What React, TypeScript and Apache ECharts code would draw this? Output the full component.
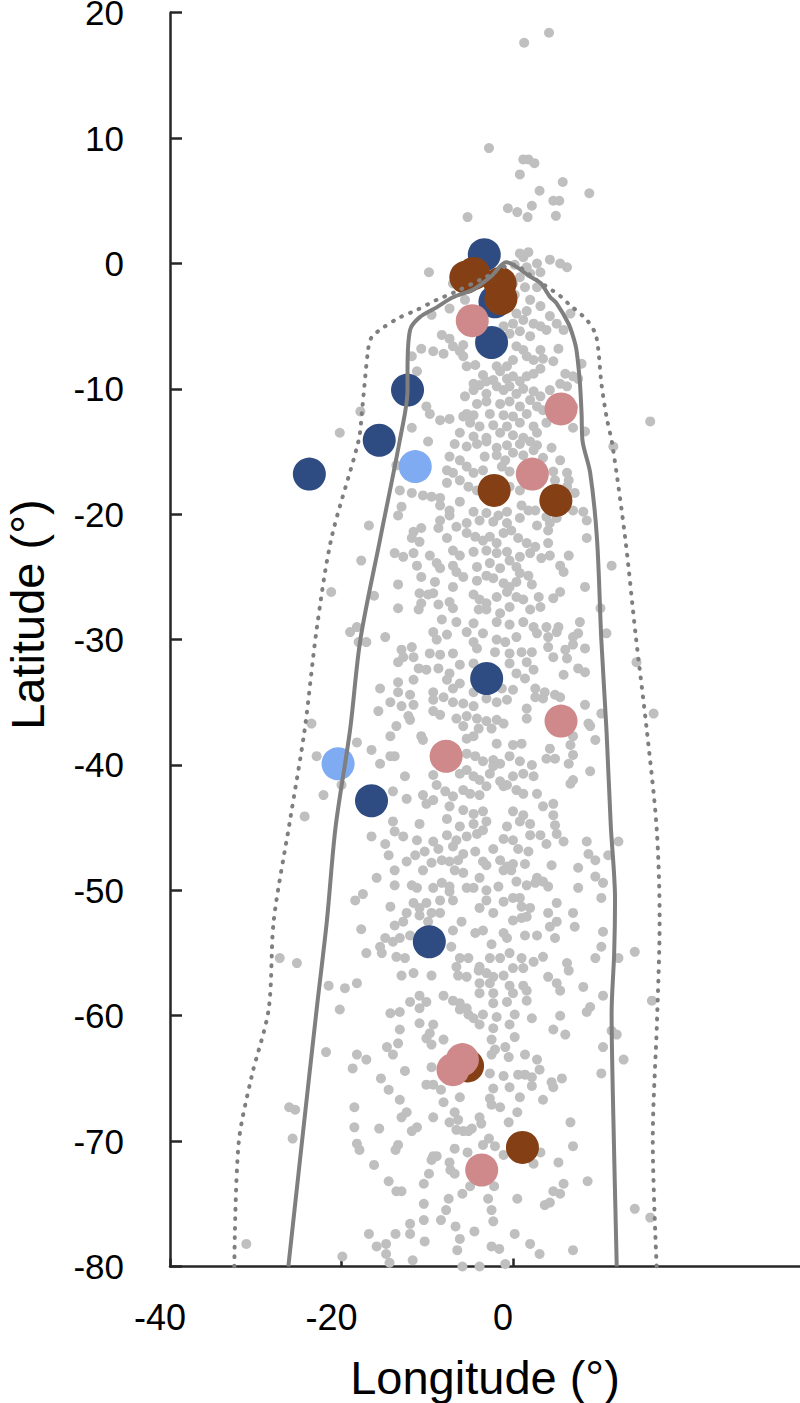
import React, { useEffect, useRef } from "react";
import * as echarts from "echarts";

const FONT = "'Liberation Sans', Arial, sans-serif";

const xTickValues = [-40, -20, 0, 20];
const yTickValues = [-80, -70, -60, -50, -40, -30, -20, -10, 0, 10, 20];

// Solid and dotted envelope curves [longitude, latitude]
const boundarySolid = [
  [-26.2, -80], [-24.6, -70], [-22.9, -59.5], [-21.7, -52.4], [-20.7, -45], [-19.0, -37.2], [-17.8, -30],
  [-15.5, -22], [-13.2, -14.1], [-12.3, -10.1], [-12.3, -8.5], [-12.0, -5.3], [-10.9, -4.3], [-8.9, -3.5],
  [-7.0, -2.7], [-4.7, -2.1], [-2.5, -1.0], [-0.8, 0.1], [2.0, -1.05], [3.24, -1.58], [4.3, -2.65], [5.1, -3.2],
  [6.45, -4.77], [7.0, -5.8], [7.4, -6.9], [7.8, -9.5], [8.0, -12], [8.1, -14.1], [9.0, -16.7], [9.8, -22.0],
  [10.3, -30.0], [10.9, -37.2], [11.4, -44.8], [11.9, -50.7], [11.8, -55], [11.5, -59.8], [11.7, -68], [12.1, -80],
];

const boundaryDotted = [
  [-32.5, -80], [-32.0, -70.2], [-30.5, -64.9], [-28.5, -59.5], [-27.9, -52.4], [-26.0, -44.4], [-24.3, -37.2],
  [-22.9, -29.2], [-21.2, -22], [-18.0, -14.1], [-17.6, -11.7], [-16.9, -6.9], [-16.5, -5.9], [-15.1, -5.1],
  [-13.2, -4.3], [-11.2, -3.7], [-8.9, -2.9], [-7.0, -2.35], [-3.5, -1.2], [0.0, -0.1], [2.5, -1.2], [4.7, -2.2],
  [5.6, -2.65], [6.45, -3.2], [8.6, -4.5], [9.6, -5.6], [9.95, -6.9], [10.3, -9.5], [10.9, -12.2], [11.6, -14.5],
  [13.1, -22], [14.3, -29.6], [15.6, -37.2], [16.75, -45], [17.1, -52.4], [16.8, -60.3], [16.3, -69.9], [16.75, -80],
];

// Grey background points, by latitude band
const greyBand1 = [
  [1.3, 17.6], [4.2, 18.4], [-2.8, 9.2], [1.2, 8.3], [1.8, 8.3], [2.5, 8.0], [0.8, 7.1], [5.8, 6.5], [3.1, 5.8], [8.9, 5.6],
  [4.7, 5.0], [5.4, 5.0], [-0.6, 4.4], [0.5, 4.1], [2.2, 4.6], [1.7, 3.7], [5.0, 3.8], [-5.3, 3.7],
  [0.8, 0.8], [1.8, 0.9], [1.2, 0.5], [0.2, -0.1], [1.6, -0.3], [2.8, 0.0], [2.0, -0.8], [3.2, -0.7], [0.8, -1.1], [4.3, 0.3],
  [5.5, 0.0], [6.3, -0.3], [0.0, -1.6], [1.4, -1.9], [2.8, -1.9], [0.2, -2.5], [2.0, -2.9], [-0.4, -3.4], [0.4, -4.0],
  [1.6, -3.8], [3.2, -3.4], [4.3, -4.2], [0.0, -4.8], [1.2, -4.5], [2.4, -4.8], [-1.1, -5.0], [-0.4, -5.6], [0.8, -5.4],
  [2.0, -5.8], [3.2, -5.0], [3.9, -5.3], [5.1, -4.8], [5.9, -5.3], [6.7, -4.0],
  [-9.8, -0.7], [-7.0, -1.6], [-5.6, -2.9], [-7.4, -3.6], [-9.5, -4.1], [-8.3, -5.7], [-7.4, -6.0], [-7.0, -6.6],
  [-5.8, -6.5], [-6.2, -7.0], [-10.7, -6.8], [-9.3, -7.0], [-8.1, -7.2], [0.4, -6.6], [1.2, -6.9], [3.2, -6.9],
  [5.3, -6.8], [-11.8, -7.4], [-5.8, -7.4], [-5.4, -8.2], [-4.4, -8.1], [-1.9, -8.2], [-1.5, -8.6], [-0.7, -8.2],
  [0.0, -7.7], [1.6, -7.4], [2.4, -7.7], [3.5, -7.6], [4.7, -7.8], [-11.2, -8.6], [-3.5, -8.9], [-3.1, -9.4],
  [-2.3, -9.3], [-0.7, -9.2], [0.0, -9.0], [0.8, -9.4], [1.6, -9.0], [2.4, -8.8], [3.2, -8.4], [6.1, -8.8], [7.0, -9.0],
  [8.0, -8.0], [7.6, -9.2], [-4.6, -9.6], [-3.9, -9.7], [-4.6, -10.1], [-3.1, -10.4], [-1.9, -9.8], [-1.1, -10.1],
  [-0.4, -9.8], [0.4, -10.4], [1.2, -10.0], [2.4, -10.2], [3.2, -10.6], [4.3, -10.1], [5.5, -9.6], [6.3, -9.8],
  [-5.6, -10.6], [-4.2, -11.2], [-3.1, -11.0], [-1.5, -11.2], [-0.4, -11.0], [0.8, -11.4], [2.0, -10.9], [2.8, -11.4],
  [-10.1, -11.4], [-9.7, -12.0], [-5.4, -12.0], [-4.6, -12.1], [-2.7, -12.0], [-1.1, -12.1], [0.0, -12.2], [1.6, -12.0],
  [3.5, -11.7], [-17.8, -11.8], [7.0, -11.4], [-8.5, -12.5], [-7.4, -12.4], [-5.8, -12.2], [-5.0, -12.7], [-3.9, -13.0],
  [-2.3, -12.9], [-0.7, -13.0], [0.8, -12.7], [2.4, -13.0], [3.9, -12.7], [16.0, -12.6], [-20.2, -13.5], [-11.8, -13.1],
  [-6.2, -13.5], [-4.6, -13.8], [-3.1, -13.9], [-1.5, -13.5], [0.0, -13.7], [1.2, -13.9], [2.8, -13.5], [7.0, -13.1], [8.4, -13.4],
];

const greyBand2 = [
  [-9.9, -14.2], [-6.8, -14.4], [-5.4, -14.6], [-4.2, -14.4], [-3.1, -14.2], [-1.9, -14.7], [-0.7, -14.5], [0.8, -14.4],
  [2.0, -14.2], [2.8, -14.5], [4.5, -14.7], [11.7, -14.6], [-3.3, -15.4], [-1.9, -15.3], [-0.9, -15.7], [0.0, -15.1],
  [1.2, -15.3], [2.4, -14.9], [-7.4, -15.4], [-6.2, -15.7], [3.5, -15.5], [5.5, -15.7], [6.3, -16.7], [6.5, -17.3],
  [-13.6, -16.1], [-7.7, -16.5], [-7.0, -16.7], [-5.4, -16.2], [-4.6, -16.7], [-3.5, -16.5], [-1.3, -16.2], [-0.4, -16.6],
  [4.7, -16.6], [4.9, -17.3], [-7.7, -17.5], [-6.2, -17.3], [-5.2, -17.8], [-4.2, -18.1], [-0.4, -17.8], [0.8, -18.1],
  [6.3, -17.8], [7.2, -18.3], [-13.2, -18.1], [-11.8, -18.3], [-10.5, -18.5], [-9.5, -18.6], [-8.5, -18.7], [-8.5, -19.3],
  [-7.4, -19.7], [-6.2, -19.0], [-4.6, -19.8], [-3.1, -19.9], [-1.7, -20.1], [-0.7, -19.8], [1.0, -19.3], [1.8, -19.7],
  [2.6, -19.7], [3.9, -20.2], [5.1, -20.3], [7.0, -19.7], [8.2, -19.8], [8.6, -20.5], [-13.0, -19.4], [-13.4, -20.1],
  [-8.5, -20.5], [-7.4, -20.1], [-5.4, -20.7], [-3.9, -20.5], [-2.3, -20.6], [-0.7, -20.7], [0.8, -20.3], [2.8, -20.9],
  [4.3, -20.7], [-16.8, -20.9], [-11.6, -21.4], [-10.7, -21.1], [-11.8, -21.9], [-10.9, -22.2], [-8.7, -21.1], [-7.7, -21.9],
  [-6.6, -21.0], [-5.4, -21.5], [-4.4, -21.8], [-3.5, -22.1], [-2.7, -21.8], [-1.9, -22.3], [-1.1, -21.5], [-0.2, -21.3],
  [0.6, -21.9], [1.6, -22.3], [2.6, -22.6], [4.1, -21.3], [4.1, -22.3], [8.6, -21.9], [-13.8, -23.1], [-12.8, -23.4],
  [-11.6, -23.1], [-9.7, -23.3], [-7.0, -22.9], [-6.2, -23.3], [-4.6, -23.0], [-3.1, -22.9], [-1.9, -23.1], [-0.7, -23.0],
  [0.8, -23.4], [2.0, -23.1], [4.3, -23.3], [6.5, -23.3], [-17.7, -23.7], [-11.2, -24.1], [-8.9, -23.9], [-8.5, -24.3],
  [-7.0, -24.1], [-6.6, -24.6], [-5.8, -25.0], [-4.2, -24.2], [-2.7, -23.9], [-1.5, -24.3], [-0.4, -23.7], [0.4, -24.2],
  [0.8, -24.7], [1.8, -24.9], [3.3, -23.5], [5.5, -24.1], [5.9, -24.6], [11.5, -24.1], [-13.4, -25.6], [-10.7, -25.0],
  [-9.1, -25.4], [-7.0, -25.8], [-4.2, -25.3], [-3.1, -24.9], [-2.3, -25.1], [-1.1, -25.5], [-0.4, -25.8], [0.4, -25.4],
  [2.2, -25.6], [8.4, -25.8], [-21.2, -26.2], [-16.2, -26.5], [-10.9, -26.3], [-9.9, -26.4], [-9.3, -26.3], [-7.4, -27.0],
  [-7.0, -27.5], [-4.6, -26.4], [-3.9, -26.8], [-3.1, -27.1], [-1.9, -26.6], [-0.7, -26.2], [0.4, -26.6], [1.2, -26.8],
  [3.0, -26.6], [4.7, -26.7], [5.5, -26.2], [-13.4, -27.5], [-11.0, -27.6], [-10.7, -27.1], [-8.7, -27.2], [-4.0, -27.6],
  [-3.1, -27.6], [-1.5, -27.9], [-0.4, -27.4], [2.0, -27.6], [3.2, -27.4], [10.2, -27.5], [-8.3, -28.4], [-6.6, -28.6],
  [-4.6, -28.7], [-1.9, -28.6], [-0.4, -28.8], [1.2, -28.6], [2.4, -29.0], [3.9, -29.0], [5.3, -29.0], [7.8, -28.6], [-18.2, -29.0],
];

const greyBand3 = [
  [-19.0, -29.4], [-18.0, -30.2], [-17.1, -30.2], [-14.9, -29.8], [-9.3, -29.4], [-8.9, -30.0], [-7.7, -29.6], [-5.4, -29.4],
  [-4.6, -30.2], [-3.5, -29.5], [-1.9, -30.0], [-0.9, -30.2], [0.4, -29.8], [2.8, -29.5], [4.1, -29.8], [5.1, -29.4],
  [7.0, -29.8], [7.6, -29.5], [10.9, -29.5], [-13.0, -30.8], [-11.8, -30.6], [-12.8, -31.4], [-11.6, -31.4], [-13.4, -31.8],
  [-9.7, -31.1], [-8.5, -31.2], [-7.0, -31.1], [-4.2, -30.7], [-2.1, -31.0], [-0.4, -31.1], [1.0, -31.0], [2.2, -31.0],
  [4.1, -30.6], [4.7, -31.4], [6.1, -30.8], [7.0, -30.4], [8.4, -30.7], [6.3, -31.5], [14.4, -31.8], [-11.0, -32.3],
  [-10.1, -32.4], [-8.7, -32.3], [-7.4, -32.7], [-6.2, -32.0], [-4.6, -31.9], [-0.4, -31.9], [1.6, -31.8], [2.4, -32.4],
  [0.4, -32.7], [1.4, -33.1], [5.9, -32.8], [7.6, -32.3], [8.4, -32.6], [-15.5, -33.9], [-13.4, -33.4], [-11.6, -33.2],
  [-9.3, -34.2], [-7.7, -33.2], [-7.0, -33.9], [-6.2, -33.5], [-4.6, -34.2], [-1.3, -33.9], [0.0, -34.0], [2.6, -33.9],
  [3.7, -34.2], [4.9, -34.4], [-14.3, -35.0], [-15.7, -35.7], [-13.4, -34.2], [-12.0, -34.4], [-13.0, -35.3], [-11.6, -35.2],
  [-9.3, -34.8], [-8.1, -34.6], [-7.0, -35.0], [-5.8, -35.1], [-4.6, -35.3], [-3.1, -34.7], [-1.9, -35.0], [-0.7, -34.8],
  [1.6, -35.5], [2.6, -34.6], [3.5, -34.7], [5.5, -34.6], [8.4, -35.2], [10.3, -35.9], [16.4, -35.9], [-12.2, -36.1],
  [-12.0, -36.4], [-9.3, -35.7], [-8.5, -36.0], [-6.6, -36.3], [-5.4, -36.1], [-4.2, -36.3], [-3.1, -36.5], [-1.9, -36.4],
  [-1.1, -36.7], [1.6, -36.3], [-5.8, -36.9], [-4.0, -37.1], [-2.5, -37.1], [-23.5, -36.7], [-13.6, -36.9], [8.8, -36.7],
  [7.0, -37.7], [-14.3, -37.7], [-18.2, -38.2], [-16.5, -38.8], [-10.7, -37.7], [-10.5, -38.0], [-5.4, -37.9], [-4.6, -37.7],
  [-1.9, -38.3], [0.0, -38.4], [1.0, -38.3], [4.3, -38.7], [6.7, -38.4], [9.6, -38.0], [-22.9, -39.3], [-15.5, -39.9],
  [-14.3, -39.3], [-13.8, -39.3], [-5.4, -39.1], [-4.4, -39.3], [-3.5, -39.7], [-2.3, -39.6], [-1.5, -39.9], [-0.4, -39.3],
  [0.8, -39.7], [2.2, -40.0], [3.9, -39.5], [4.9, -39.5], [6.5, -39.9], [7.0, -39.2], [9.0, -36.9], [-12.6, -40.9],
  [-9.3, -40.8], [-8.9, -41.6], [-6.2, -40.7], [-5.4, -40.4], [-4.6, -40.9], [-3.9, -41.2], [-2.7, -40.7], [-2.3, -40.1],
  [-1.5, -41.3], [-1.1, -41.7], [0.0, -40.9], [1.2, -40.7], [2.4, -40.9], [7.0, -41.2], [9.0, -40.5], [-20.0, -41.6],
  [-22.1, -42.4], [-14.0, -42.1], [-12.4, -42.7], [-10.5, -42.4], [-9.3, -42.8], [-7.9, -42.1], [-7.0, -42.5], [-5.8, -42.0],
  [-5.0, -42.3], [-3.9, -42.4], [-3.1, -41.7], [-0.7, -41.6], [0.4, -42.0], [1.2, -42.3], [2.8, -42.3], [6.7, -41.5],
  [-24.3, -44.1], [-10.1, -43.1], [-7.4, -43.3], [-5.8, -43.6], [-4.6, -43.9], [-3.5, -43.7], [0.0, -43.7], [1.2, -44.0],
  [3.5, -43.3], [4.7, -43.1], [4.7, -44.0], [-7.7, -44.3],
];

const greyBand4 = [
  [-14.0, -44.5], [-10.9, -44.7], [-6.2, -44.9], [-4.6, -44.7], [-3.1, -44.5], [-0.7, -44.9], [0.8, -44.5], [2.0, -44.7],
  [4.9, -44.8], [-16.5, -45.7], [-13.8, -45.3], [-12.8, -45.7], [-11.2, -46.0], [-9.3, -46.1], [-7.7, -45.6], [-6.6, -46.0],
  [-5.4, -45.7], [-4.2, -45.5], [-3.5, -45.2], [-1.1, -45.9], [0.0, -46.0], [2.0, -45.6], [3.2, -45.6], [3.9, -46.3],
  [5.1, -45.5], [5.9, -46.1], [8.6, -46.1], [12.3, -46.1], [-14.9, -46.3], [-10.3, -46.9], [-8.7, -46.7], [-7.0, -46.5],
  [-5.8, -47.1], [-4.4, -46.9], [-2.3, -46.7], [0.6, -46.7], [1.8, -46.9], [-14.5, -47.2], [-12.4, -47.7], [-11.4, -47.2],
  [-9.5, -47.8], [-8.3, -47.6], [-7.4, -47.7], [-6.4, -47.6], [-3.5, -47.7], [-3.1, -48.0], [-1.5, -47.6], [-0.7, -48.1],
  [0.0, -47.9], [1.4, -47.9], [4.5, -48.0], [8.8, -47.1], [9.6, -47.6], [11.1, -47.2], [-13.8, -48.4], [-15.9, -49.0],
  [-10.5, -48.4], [-6.8, -48.4], [-5.8, -48.6], [-3.9, -49.0], [-1.1, -48.4], [-0.2, -48.4], [2.8, -49.0], [3.5, -49.3],
  [7.6, -48.2], [9.6, -48.9], [10.5, -49.4], [-13.8, -49.6], [-11.8, -49.6], [-11.2, -49.8], [-9.3, -49.8], [-8.3, -49.4],
  [-7.4, -49.7], [-5.4, -49.8], [-4.6, -49.8], [-3.1, -50.0], [-1.7, -49.7], [0.4, -49.3], [1.6, -49.6], [2.6, -49.4],
  [4.1, -49.7], [7.6, -49.8], [-18.4, -50.8], [-17.5, -50.3], [-14.3, -51.3], [-11.6, -51.0], [-10.9, -51.4], [-10.1, -51.0],
  [-8.5, -50.8], [-7.4, -50.1], [-7.0, -50.8], [-3.9, -51.4], [-3.1, -50.8], [-2.3, -51.8], [-1.1, -50.9], [0.0, -50.6],
  [0.8, -50.6], [1.0, -51.3], [2.0, -51.4], [4.1, -51.8], [5.1, -51.0], [7.0, -51.8], [10.3, -50.6], [-12.4, -51.8],
  [-10.9, -52.0], [-9.5, -51.8], [-8.5, -51.8], [0.0, -52.4], [1.0, -52.2], [1.6, -52.1], [4.3, -52.9], [5.1, -52.5],
  [-17.7, -53.1], [-13.8, -52.8], [-12.8, -52.5], [-9.9, -52.5], [-7.0, -53.2], [-6.0, -52.5], [-4.4, -53.4], [-3.5, -53.2],
  [-1.1, -53.4], [-0.7, -53.8], [1.4, -53.6], [2.8, -53.6], [4.9, -53.8], [7.2, -52.9], [10.5, -53.3], [-14.9, -53.8],
  [-15.5, -54.5], [-14.0, -54.1], [-13.2, -53.8], [-12.0, -53.6], [-7.2, -54.5], [-2.5, -54.3], [10.3, -54.5], [-17.1, -55.0],
  [-15.3, -55.0], [-13.6, -55.3], [-12.6, -55.4], [-6.2, -55.4], [-5.2, -55.4], [-3.9, -56.1], [-2.7, -55.4], [-1.5, -55.4],
  [-0.4, -55.0], [1.0, -55.4], [2.4, -55.7], [3.5, -55.3], [6.3, -55.8], [9.6, -55.4], [12.3, -55.4], [14.2, -54.9],
  [-27.2, -55.4], [-25.2, -55.8], [-13.0, -56.8], [-11.6, -56.6], [-9.5, -56.8], [-6.6, -56.1], [-6.4, -56.8], [-5.4, -56.9],
  [-4.0, -56.4], [-3.1, -56.6], [-2.3, -56.9], [-1.1, -56.8], [0.0, -56.2], [1.2, -56.2], [4.1, -56.9], [6.5, -56.4],
  [-21.5, -57.6], [-19.6, -57.8], [-18.2, -57.4], [-3.9, -57.4], [-2.7, -57.4], [-0.4, -57.6], [1.2, -57.6], [5.1, -57.4],
  [8.2, -57.7], [10.5, -58.4], [5.5, -58.0], [-10.9, -58.4], [-8.1, -58.4], [-7.0, -58.8], [-6.2, -59.0], [-3.9, -58.2],
  [-2.3, -58.2], [0.0, -58.2], [1.6, -58.0], [-12.0, -58.9], [-10.1, -58.9], [-10.9, -59.4], [-20.2, -59.5], [-5.4, -59.4],
  [-2.3, -59.0], [-0.7, -58.9], [1.6, -58.8], [9.0, -59.3], [16.2, -58.8],
];

const greyBand5 = [
  [-14.3, -59.8], [-13.2, -59.7], [-6.2, -59.5], [-5.2, -59.9], [-4.6, -60.2], [-3.5, -59.9], [-1.9, -60.1], [0.2, -59.9],
  [2.2, -60.2], [5.5, -60.0], [8.6, -59.7], [-10.9, -60.6], [-9.3, -60.7], [-3.9, -60.7], [-2.3, -61.0], [-0.4, -60.7],
  [-13.2, -61.1], [-9.7, -61.4], [-10.1, -61.8], [4.7, -61.1], [6.1, -61.5], [11.5, -61.2], [12.1, -61.5], [-8.1, -61.9],
  [-2.5, -61.9], [0.2, -61.7], [-13.4, -62.2], [-9.5, -62.3], [-14.7, -62.5], [-21.8, -62.9], [-18.2, -63.1], [-17.1, -63.5],
  [-14.0, -63.1], [-2.1, -62.7], [-0.9, -62.5], [-2.5, -63.1], [-0.5, -63.3], [1.4, -63.1], [2.8, -63.5], [10.5, -62.5],
  [12.9, -63.5], [-18.7, -64.2], [-12.6, -64.4], [-9.5, -64.1], [-2.7, -64.6], [-1.1, -64.8], [0.6, -64.7], [1.4, -64.7],
  [2.2, -64.9], [3.1, -64.3], [10.3, -64.6], [-15.4, -65.0], [-14.5, -65.9], [-10.1, -65.5], [-9.3, -65.5], [-8.4, -65.9],
  [-6.2, -66.5], [-2.3, -65.8], [-0.4, -65.7], [2.2, -65.6], [4.5, -65.3], [5.7, -65.0], [4.7, -65.7], [-13.2, -66.7],
  [-8.1, -66.9], [-2.7, -66.6], [-2.5, -67.1], [-1.5, -67.3], [0.8, -66.5], [3.5, -66.7], [-26.1, -67.3], [-25.4, -67.5],
  [-18.5, -67.3], [-13.0, -68.1], [-12.4, -67.7], [-9.3, -68.1], [-6.8, -67.7], [-7.4, -68.5], [-6.4, -68.3], [-5.2, -69.2],
  [-3.9, -68.1], [-3.7, -68.6], [-0.5, -68.5], [0.5, -67.7], [6.7, -68.5], [-18.5, -68.9], [-15.6, -69.0], [-11.8, -69.2],
  [-11.2, -68.9], [-6.6, -69.1], [-5.8, -69.2], [-4.8, -69.0], [-25.7, -69.8], [-2.8, -69.8], [-18.2, -70.2], [-17.9, -70.7],
  [-13.7, -70.7], [-13.4, -70.3], [-9.3, -71.2], [-8.9, -71.2], [-6.8, -70.6], [-5.3, -70.9], [-3.5, -70.3], [-2.1, -70.4],
  [-1.1, -71.1], [3.2, -70.9], [7.0, -70.4], [-16.2, -71.9], [-9.5, -71.5], [-7.4, -71.7], [-7.3, -72.3], [-6.8, -72.6],
  [-9.8, -72.6], [2.4, -71.8], [5.3, -71.7], [8.7, -73.2], [-14.5, -73.2], [-13.6, -74.0], [-13.0, -74.0], [-10.4, -73.4],
  [-5.0, -73.6], [-2.2, -73.6], [-5.9, -74.2], [-2.9, -74.6], [0.5, -74.6], [-7.5, -74.6], [-10.4, -75.0], [-7.8, -75.5],
  [-2.5, -75.5], [4.7, -74.0], [5.9, -73.4], [5.5, -74.2], [3.7, -75.1], [4.3, -74.9], [14.2, -75.4], [16.0, -76.1],
  [-8.4, -76.3], [-10.4, -76.3], [-12.0, -76.6], [-6.7, -76.8], [-4.5, -77.2], [-2.3, -76.4], [-16.8, -77.4], [-13.7, -77.4],
  [-12.0, -77.4], [-10.3, -78.0], [-6.2, -77.8], [0.2, -77.4], [2.0, -78.2], [-31.1, -78.2], [-15.9, -78.4], [-14.8, -78.2],
  [-14.8, -79.0], [-2.5, -78.4], [-1.6, -78.6], [-6.5, -78.7], [3.1, -79.0], [7.0, -78.7], [-19.9, -79.2], [-14.4, -79.7],
  [-11.7, -79.5], [-5.9, -80.0], [-3.9, -80.0], [-0.9, -79.8],
];

// Highlighted sites
const darkBlue = [
  [-3.35, 0.7], [-2.1, -3.05], [-2.5, -6.3], [-12.3, -10.1], [-15.6, -14.1], [-23.75, -16.8], [-3.07, -33.1],
  [-16.5, -42.85], [-9.76, -54.1],
];
const lightBlue = [[-11.4, -16.2], [-20.4, -39.9]];
const brown = [
  [-5.5, -1.1], [-4.6, -0.8], [-1.5, -1.6], [-1.4, -2.8], [-2.2, -18.1], [5.0, -18.9], [-5.3, -64.0], [1.1, -70.5],
];
const pink = [
  [-4.75, -4.56], [5.6, -11.6], [2.25, -16.8], [5.6, -36.5], [-7.8, -39.3], [-5.9, -63.5], [-7.0, -64.3], [-3.65, -72.3],
];

const greyAll = [...greyBand1, ...greyBand2, ...greyBand3, ...greyBand4, ...greyBand5];

const AXIS_COLOR = "#262626";
const LINE_COLOR = "#7F7F7F";

export default function App() {
  const ref = useRef<HTMLDivElement>(null);
  useEffect(() => {
    if (!ref.current) return;
    const chart = echarts.init(ref.current, null, { renderer: "svg" });
    const dot = (data: number[][], size: number, color: string) => ({
      type: "scatter", data, symbol: "circle", symbolSize: size, silent: true,
      itemStyle: { color, opacity: 1, borderWidth: 0 },
    });
    const option: any = {
      animation: false,
      backgroundColor: "#ffffff",
      grid: { left: 170, top: 12.7, right: 0, bottom: 136.5, containLabel: false, outerBoundsMode: "none" },
      xAxis: {
        type: "value",
        min: -40,
        max: 33.47,
        interval: 20,
        name: "Longitude (°)",
        nameLocation: "middle",
        nameGap: 87,
        nameTextStyle: { fontSize: 47, fontFamily: FONT, color: "#000" },
        axisLine: { show: true, onZero: false, lineStyle: { color: AXIS_COLOR, width: 2.5 } },
        axisTick: { show: true, inside: true, length: 8, customValues: xTickValues, lineStyle: { color: AXIS_COLOR, width: 2.5 } },
        axisLabel: {
          show: true, margin: 33, fontSize: 36, fontFamily: FONT, color: "#000",
          padding: [0, 20, 0, 0], showMaxLabel: false, customValues: xTickValues,
        },
        splitLine: { show: false },
      },
      yAxis: {
        type: "value",
        min: -80,
        max: 20,
        interval: 10,
        name: "Latitude (°)",
        nameLocation: "middle",
        nameGap: 119,
        nameRotate: 90,
        nameTextStyle: { fontSize: 47, fontFamily: FONT, color: "#000", padding: [0, 0, 0, 50] },
        axisLine: { show: true, onZero: false, lineStyle: { color: AXIS_COLOR, width: 2.5 } },
        axisTick: { show: true, inside: true, length: 12, customValues: yTickValues, lineStyle: { color: AXIS_COLOR, width: 2.5 } },
        axisLabel: {
          show: true, margin: 46, fontSize: 35, lineHeight: 18, fontFamily: FONT, color: "#000",
          padding: [5, 0, 0, 0], customValues: yTickValues,
        },
        splitLine: { show: false },
      },
      series: [
        {
          type: "line", data: boundarySolid, symbol: "none", smooth: 0.3, silent: true,
          lineStyle: { color: LINE_COLOR, width: 4 },
        },
        {
          type: "line", data: boundaryDotted, symbol: "none", smooth: 0.3, silent: true,
          lineStyle: { color: LINE_COLOR, width: 4, type: [0.8, 8.7], cap: "round" },
        },
        dot(greyAll, 10, "#BFBFBF"),
        dot(darkBlue, 33, "#2F4C82"),
        dot(lightBlue, 33, "#7EABF2"),
        dot(brown, 33, "#843F14"),
        dot(pink, 33, "#CF898A"),
      ],
    };
    chart.setOption(option);
    return () => chart.dispose();
  }, []);
  return <div ref={ref} style={{ position: "absolute", left: 0, top: 0, width: 800, height: 1403 }} />;
}
